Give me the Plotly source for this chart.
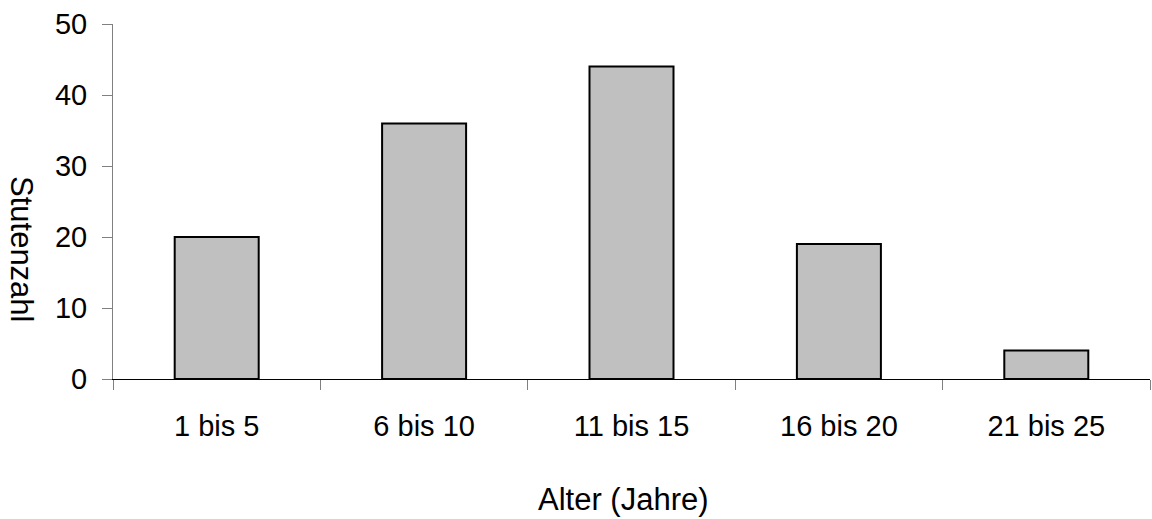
import plotly.graph_objects as go

categories = ["1 bis 5", "6 bis 10", "11 bis 15", "16 bis 20", "21 bis 25"]
values = [20, 36, 44, 19, 4]
y_ticks = [0, 10, 20, 30, 40, 50]
x_title = "Alter (Jahre)"
y_title = "Stutenzahl"

W, H = 1152, 519
L, R, T, B = 113, 2, 24, 140
plot_w = W - L - R
plot_h = H - T - B

fig = go.Figure()
fig.add_trace(go.Bar(
    x=categories, y=values,
    marker=dict(color="#C0C0C0", line=dict(color="#000000", width=2)),
    width=0.405,
))

font = dict(family="Liberation Sans, Arial, sans-serif", color="#000000")

fig.update_layout(
    width=W, height=H,
    margin=dict(l=L, r=R, t=T, b=B, pad=0),
    paper_bgcolor="white", plot_bgcolor="white",
    showlegend=False,
    font=dict(family="Liberation Sans, Arial, sans-serif", size=29, color="#000000"),
    xaxis=dict(
        type="category", range=[-0.5, 4.5],
        showline=True, linecolor="#000000", linewidth=1,
        ticks="outside", tickson="boundaries", ticklen=10, tickcolor="#808080", tickwidth=1,
        tickfont=dict(size=29), showgrid=False, zeroline=False,
        ticklabelstandoff=21,
    ),
    yaxis=dict(
        range=[0, 50], tickvals=y_ticks,
        showline=True, linecolor="#808080", linewidth=1,
        ticks="outside", ticklen=10, tickcolor="#808080", tickwidth=1,
        tickfont=dict(size=29), showgrid=False, zeroline=False,
        ticklabelstandoff=9,
    ),
    annotations=[
        dict(text=x_title, xref="paper", yref="paper",
             x=(623 - L) / plot_w, y=(T + plot_h - 499) / plot_h,
             xanchor="center", yanchor="middle", showarrow=False,
             font=dict(size=31, **font)),
        dict(text=y_title, xref="paper", yref="paper",
             x=(22 - L) / plot_w, y=(T + plot_h - 249) / plot_h,
             xanchor="center", yanchor="middle", showarrow=False, textangle=90,
             font=dict(size=31, **font)),
    ],
)

fig.write_html("out.html")
